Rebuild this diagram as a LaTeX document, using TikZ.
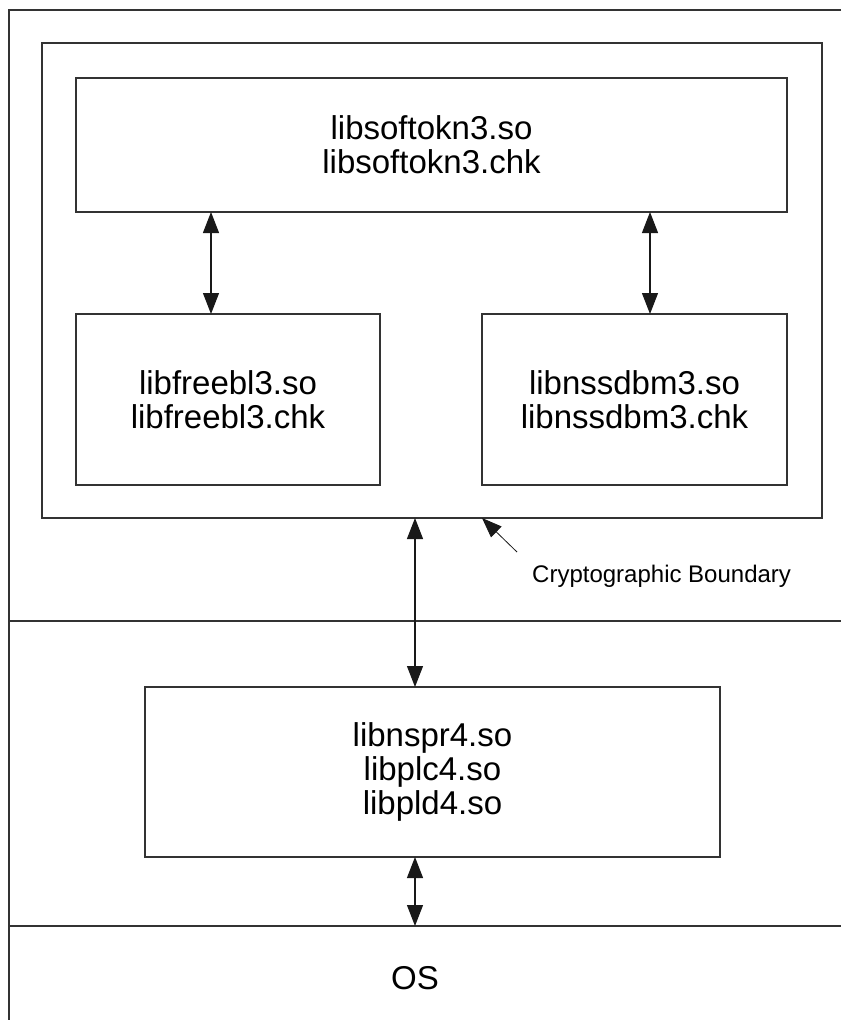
\documentclass[tikz,border=0pt]{standalone}
\usepackage{fontspec}
\setmainfont{Liberation Sans}
\usetikzlibrary{arrows.meta}
\begin{document}
\begin{tikzpicture}[x=1pt,y=-1pt,
  frame/.style={line width=1.6pt,draw=black!80},
  libbox/.style={draw=black!80,line width=1.6pt,outer sep=0pt,inner sep=0pt,align=center,
     font=\fontsize{33}{34}\selectfont},
  tip/.style={{Triangle[length=21pt,width=16pt]}-{Triangle[length=21pt,width=16pt]},line width=1.1pt,black!90},
  ptr/.style={-{Triangle[length=20pt,width=15pt]},line width=0.8pt,black!90},
  lbl/.style={font=\fontsize{24}{26}\selectfont,inner sep=0pt}]
\useasboundingbox (0,0) rectangle (841,1020);
% outer frame and layer lines
\coordinate (tl) at (9,10);
\coordinate (tr) at (841,10);
\coordinate (bl) at (9,1020);
\coordinate (l1) at (9,621);
\coordinate (r1) at (841,621);
\coordinate (l2) at (9,926);
\coordinate (r2) at (841,926);
\draw[frame] (tr) -- (tl) -- (bl);
\draw[frame] (l1) -- (r1);
\draw[frame] (l2) -- (r2);
% boundary
\node[libbox,minimum width=780pt,minimum height=475pt] (boundary) at (432,280.5) {};
\node[libbox,minimum width=711pt,minimum height=134pt] (softokn) at (431.5,145) {libsoftokn3.so\\libsoftokn3.chk};
\node[libbox,minimum width=304pt,minimum height=171pt] (freebl) at (228,399.5) {libfreebl3.so\\libfreebl3.chk};
\node[libbox,minimum width=305pt,minimum height=171pt] (nssdbm) at (634.5,399.5) {libnssdbm3.so\\libnssdbm3.chk};
\node[libbox,minimum width=575pt,minimum height=170pt] (nspr) at (432.5,772) {libnspr4.so\\libplc4.so\\libpld4.so};
\node[font=\fontsize{33}{32}\selectfont,inner sep=0pt] (os) at (415,978) {OS};
% connector x positions
\coordinate (xa) at (211,0);
\coordinate (xb) at (650,0);
\coordinate (xc) at (415,0);
\draw[tip] (softokn.south -| xa) -- (freebl.north -| xa);
\draw[tip] (softokn.south -| xb) -- (nssdbm.north -| xb);
\draw[tip] (boundary.south -| xc) -- (nspr.north -| xc);
\draw[tip] (nspr.south -| xc) -- (l2 -| xc);
% label
\node[lbl,anchor=base west] (cb) at (532,582) {Cryptographic Boundary};
\coordinate (ptail) at (517,552);
\coordinate (phead) at (482,518);
\draw[ptr] (ptail) -- (phead);
\end{tikzpicture}
\end{document}
